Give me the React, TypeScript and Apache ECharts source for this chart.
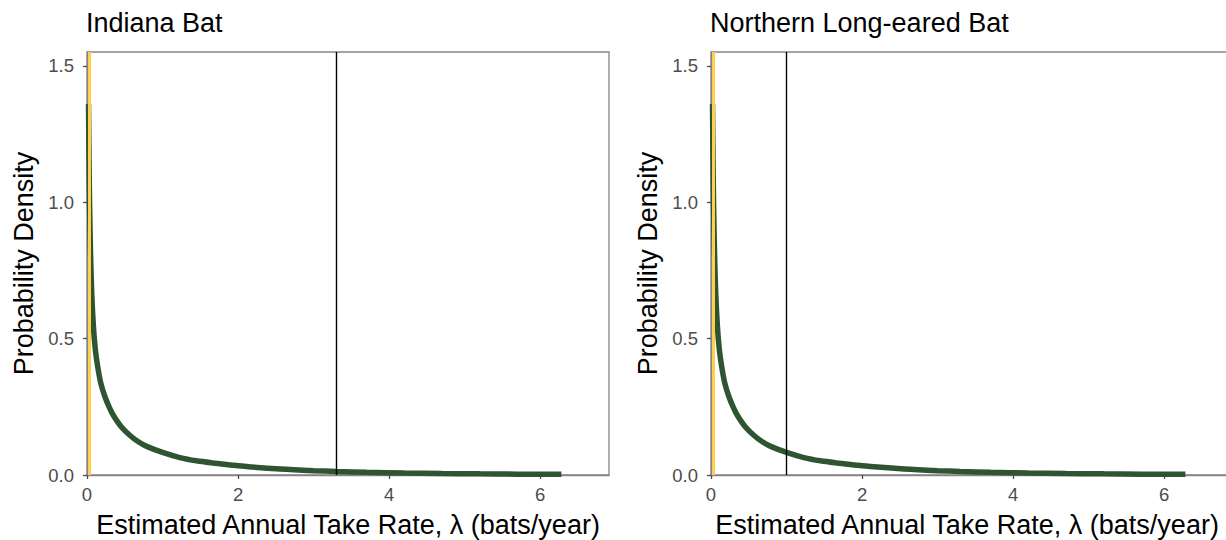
import React, { useEffect, useRef } from "react";
import * as echarts from "echarts";

// Estimated annual take rate (lambda, bats/year) and posterior probability density
const lambdaVals = [0.02, 0.03, 0.04, 0.05, 0.065, 0.086, 0.11, 0.14, 0.18, 0.24, 0.3, 0.35, 0.45, 0.57, 0.68, 0.79, 1.0, 1.23, 1.45, 1.67, 1.9, 2.11, 2.56, 3.0, 3.3, 3.7, 4.2, 4.7, 5.2, 5.7, 6.28];
const densityVals = [1.36, 1.07, 0.9, 0.78, 0.65, 0.54, 0.46, 0.4, 0.34, 0.285, 0.245, 0.218, 0.178, 0.145, 0.122, 0.105, 0.083, 0.064, 0.052, 0.044, 0.037, 0.031, 0.022, 0.016, 0.013, 0.0098, 0.0073, 0.0055, 0.0042, 0.0032, 0.0024];

const panelTitles = ["Indiana Bat", "Northern Long-eared Bat"];
const xAxisTitle = "Estimated Annual Take Rate, λ (bats/year)";
const yAxisTitle = "Probability Density";
const thresholdLines = [3.3, 1.0]; // black vertical lines
const yellowLine = 0.025; // yellow vertical line
const xTicks = [0, 2, 4, 6];
const yTicks = [0, 0.5, 1.0, 1.5];

const FONT = "Liberation Sans, Arial, sans-serif";
const BORDER = "#858585";
const TICK = "#4d4d4d";
const BIG = 27;
const SMALL = 18.5;

export default function App() {
  const ref = useRef<HTMLDivElement>(null);
  useEffect(() => {
    const chart = echarts.init(ref.current!, null, { renderer: "svg" });
    const grids = [
      { left: 87, top: 52, width: 522, height: 423 },
      { left: 711, top: 52, width: 522, height: 423 },
    ];
    const xTitleCenters = [348, 967];
    const pts = lambdaVals.map((x, i) => [x, densityVals[i]]);
    const option: any = {
      animation: false,
      backgroundColor: "#fff",
      title: panelTitles.map((t, i) => ({
        text: t,
        left: grids[i].left - 1,
        top: 9,
        padding: 0,
        textStyle: { fontSize: BIG, fontWeight: "normal", color: "#000", fontFamily: FONT },
      })),
      graphic: xTitleCenters.map((cx) => ({
        type: "text",
        x: cx,
        y: 525,
        silent: true,
        style: {
          text: xAxisTitle,
          fill: "#000",
          fontSize: BIG,
          fontFamily: FONT,
          align: "center",
          verticalAlign: "middle",
        },
      })),
      grid: grids.map((g) => ({
        ...g,
        show: true,
        borderColor: BORDER,
        borderWidth: 1.3,
        backgroundColor: "transparent",
        containLabel: false,
        outerBoundsMode: "none",
      })),
      xAxis: grids.map((_, i) => ({
        type: "value",
        gridIndex: i,
        min: 0,
        max: 6.91,
        interval: 2,
        axisLine: { show: true, onZero: false, lineStyle: { color: BORDER, width: 1.3 } },
        axisTick: { show: true, length: 4, customValues: xTicks, lineStyle: { color: TICK, width: 1.3 } },
        axisLabel: { customValues: xTicks, margin: 10, color: TICK, fontSize: SMALL, fontFamily: FONT },
        splitLine: { show: false },
      })),
      yAxis: grids.map((_, i) => ({
        type: "value",
        gridIndex: i,
        min: 0,
        max: 1.551,
        interval: 0.5,
        axisLine: { show: true, onZero: false, lineStyle: { color: BORDER, width: 1.3 } },
        axisTick: { show: true, length: 4, customValues: yTicks, lineStyle: { color: TICK, width: 1.3 } },
        axisLabel: {
          customValues: yTicks,
          margin: 13,
          color: TICK,
          fontSize: SMALL,
          fontFamily: FONT,
          formatter: (v: number) => v.toFixed(1),
        },
        splitLine: { show: false },
        name: yAxisTitle,
        nameLocation: "middle",
        nameRotate: 90,
        nameGap: 50,
        nameTextStyle: { fontSize: BIG, color: "#000", fontFamily: FONT },
      })),
      series: grids.flatMap((_, i) => [
        {
          type: "line",
          xAxisIndex: i,
          yAxisIndex: i,
          data: pts,
          showSymbol: false,
          smooth: 0.3,
          lineStyle: { color: "#2e5431", width: 5.5 },
          z: 2,
          markLine: {
            silent: true,
            symbol: ["none", "none"],
            label: { show: false },
            data: [
              { xAxis: thresholdLines[i], lineStyle: { color: "#000", width: 1.4, type: "solid" } },
            ],
          },
        },
        {
          type: "line",
          xAxisIndex: i,
          yAxisIndex: i,
          data: [],
          z: 3,
          markLine: {
            silent: true,
            symbol: ["none", "none"],
            label: { show: false },
            data: [{ xAxis: yellowLine, lineStyle: { color: "#FFD04D", width: 3, type: "solid" } }],
          },
        },
      ]),
    };
    chart.setOption(option);
    return () => chart.dispose();
  }, []);
  return <div ref={ref} style={{ position: "absolute", left: 0, top: 0, width: 1226, height: 540 }} />;
}
